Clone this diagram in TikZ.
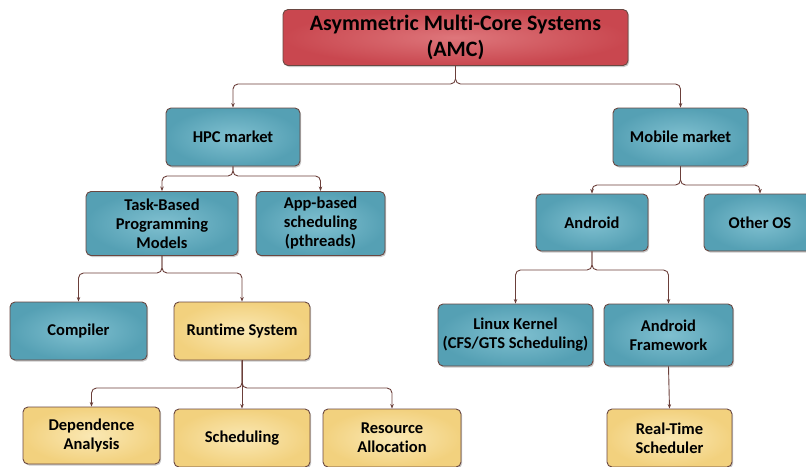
\documentclass[tikz,border=0pt]{standalone}
\usepackage{fontspec}
\setmainfont{Carlito}[Ligatures={NoCommon}]
\usetikzlibrary{arrows.meta,shadows,calc}

\definecolor{redout}{HTML}{C9474F}
\definecolor{redin}{HTML}{DE767B}
\definecolor{tealout}{HTML}{55A0B4}
\definecolor{tealin}{HTML}{80C0D0}
\definecolor{yelout}{HTML}{F2D17E}
\definecolor{yelin}{HTML}{FAE8B4}
\definecolor{edge}{HTML}{6A4842}
\definecolor{wire}{HTML}{6B3F3A}

\tikzset{
  box/.style={rounded corners=5pt, draw=edge, line width=0.9pt, align=center,
    inner sep=0pt, font=\bfseries\fontsize{16.5}{19}\selectfont,
    drop shadow={shadow xshift=1.2pt, shadow yshift=-1.5pt, opacity=0.35, fill=black!60}},
  redbox/.style={box, inner color=redin, outer color=redout},
  tealbox/.style={box, inner color=tealin, outer color=tealout},
  yelbox/.style={box, inner color=yelin, outer color=yelout},
  conn/.style={draw=wire, line width=0.9pt, rounded corners=5pt,
    -{Stealth[length=4.5pt,width=3.5pt]}},
}

\begin{document}
\begin{tikzpicture}[x=1pt,y=-1pt]
\path[use as bounding box] (0,0) rectangle (806,466);
\clip (0,0) rectangle (806,466);

% top level
\node[redbox, minimum width=345, minimum height=56,
  font=\bfseries\fontsize{22}{26}\selectfont] (amc) at (455.5,37.5)
  {Asymmetric Multi-Core Systems\\(AMC)};

% markets
\node[tealbox, minimum width=134, minimum height=58] (hpc) at (233,137) {HPC market};
\node[tealbox, minimum width=135, minimum height=58] (mob) at (680.5,137) {Mobile market};

% HPC branch
\node[tealbox, minimum width=152, minimum height=64] (task) at (162,223.5)
  {Task-Based\\Programming\\Models};
\node[tealbox, minimum width=129, minimum height=64] (app) at (320.5,223.5)
  {App-based\\scheduling\\(pthreads)};
\node[tealbox, minimum width=137, minimum height=58] (comp) at (78.5,331) {Compiler};
\node[yelbox, minimum width=136, minimum height=58] (rts) at (242,331) {Runtime System};
\node[yelbox, minimum width=137, minimum height=57] (dep) at (91.5,435.5)
  {Dependence\\Analysis};
\node[yelbox, minimum width=136, minimum height=58] (sched) at (242,438) {Scheduling};
\node[yelbox, minimum width=138, minimum height=58] (res) at (392,438)
  {Resource\\Allocation};

% mobile branch
\node[tealbox, minimum width=112, minimum height=57] (andr) at (592,222.5) {Android};
\node[tealbox, minimum width=112, minimum height=57] (other) at (760,222.5) {Other OS};
\node[tealbox, minimum width=155, minimum height=62] (linux) at (515.5,335)
  {Linux Kernel\\(CFS/GTS Scheduling)};
\node[tealbox, minimum width=129, minimum height=62] (fw) at (668.5,335)
  {Android\\Framework};
\node[yelbox, minimum width=125, minimum height=58] (rt) at (669.5,438)
  {Real-Time\\Scheduler};

% bus levels of the connectors
\coordinate (b0) at (0,84);
\coordinate (b1) at (0,176);
\coordinate (b2) at (0,273);
\coordinate (b3) at (0,388);
\coordinate (b4) at (0,185);
\coordinate (b5) at (0,270);

% connectors
\draw[conn] (amc.south) |- (hpc.north |- b0) -- (hpc.north);
\draw[conn] (amc.south) |- (mob.north |- b0) -- (mob.north);

\draw[conn] (hpc.south) |- (task.north |- b1) -- (task.north);
\draw[conn] (hpc.south) |- (app.north |- b1) -- (app.north);

\draw[conn] (task.south) |- (comp.north |- b2) -- (comp.north);
\draw[conn] (task.south) |- (rts.north |- b2) -- (rts.north);

\draw[conn] (rts.south) |- (dep.north |- b3) -- (dep.north);
\draw[conn] (rts.south) -- (sched.north);
\draw[conn] (rts.south) |- (res.north |- b3) -- (res.north);

\draw[conn] (mob.south) |- (andr.north |- b4) -- (andr.north);
\draw[conn] (mob.south) |- (other.north |- b4) -- (other.north);

\draw[conn] (andr.south) |- (linux.north |- b5) -- (linux.north);
\draw[conn] (andr.south) |- (fw.north |- b5) -- (fw.north);

\draw[conn] (fw.south) -- (rt.north);
\end{tikzpicture}
\end{document}
